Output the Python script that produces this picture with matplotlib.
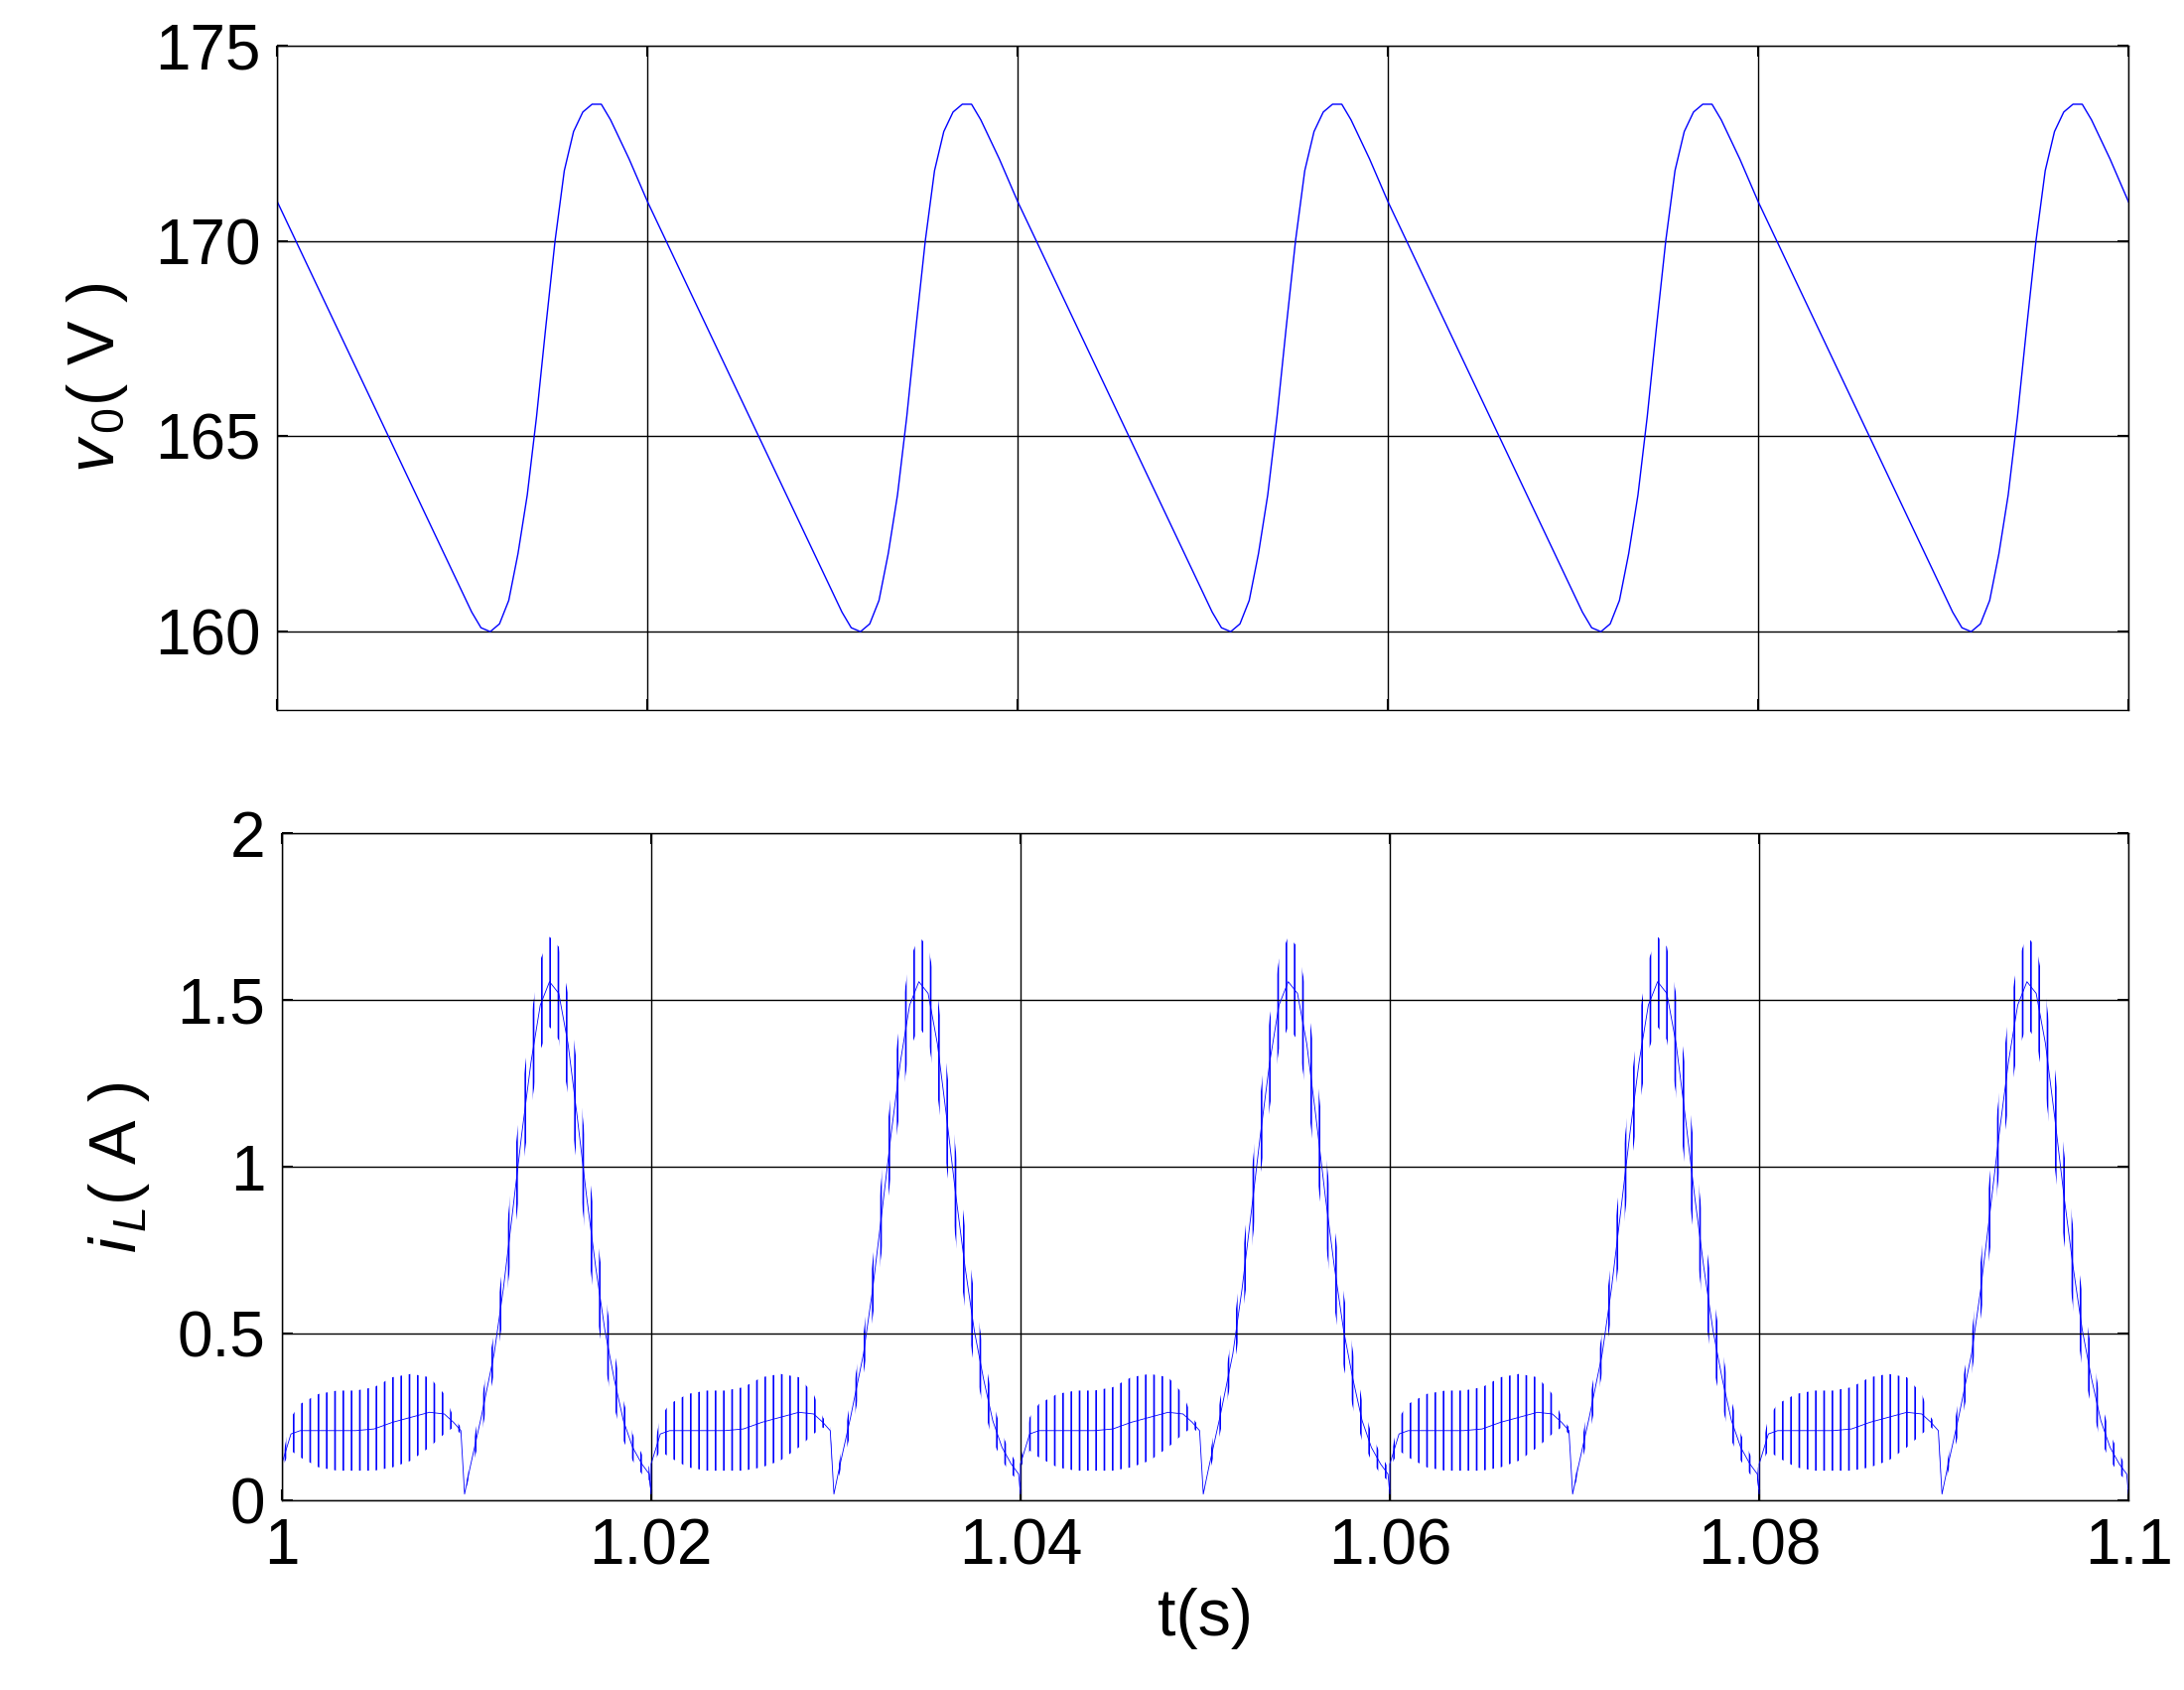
import numpy as np
import matplotlib
matplotlib.use('Agg')
import matplotlib.pyplot as plt

plt.rcParams['font.family'] = ['Liberation Sans', 'DejaVu Sans']
plt.rcParams['mathtext.fontset'] = 'custom'
plt.rcParams['mathtext.it'] = 'Liberation Sans:italic'
plt.rcParams['mathtext.rm'] = 'Liberation Sans'
plt.rcParams['hatch.linewidth'] = 1.2

period = 0.02
n_periods = 5
t0 = 1.0

# one period of output voltage, key points
v_t = [0.0, 0.0095, 0.0105, 0.011, 0.0115, 0.012, 0.0125, 0.013, 0.0135, 0.014, 0.0145, 0.015, 0.0155,
       0.016, 0.0165, 0.017, 0.0175, 0.018, 0.0185, 0.019, 0.02]
v_val = [171.0, 161.5, 160.5, 160.1, 160.0, 160.2, 160.8, 162.0, 163.5, 165.5, 167.8, 170.0, 171.8,
         172.8, 173.3, 173.5, 173.5, 173.1, 172.6, 172.1, 171.0]

# one period of inductor current envelope (upper / lower)
i_t = [0.0, 0.0005, 0.001, 0.002, 0.003, 0.004, 0.005, 0.006, 0.007, 0.008, 0.0088, 0.0093, 0.0097, 0.0099,
       0.0102, 0.0108, 0.0115, 0.012, 0.0125, 0.013, 0.0135, 0.014, 0.0145, 0.015, 0.0155, 0.016, 0.0165,
       0.017, 0.0175, 0.018, 0.0185, 0.019, 0.0195, 0.0199, 0.02]
i_up = [0.12, 0.25, 0.29, 0.32, 0.33, 0.33, 0.34, 0.37, 0.38, 0.37, 0.32, 0.25, 0.22, 0.02,
        0.12, 0.3, 0.5, 0.72, 0.98, 1.22, 1.45, 1.62, 1.69, 1.66, 1.52, 1.3, 1.05,
        0.82, 0.62, 0.45, 0.3, 0.2, 0.14, 0.1, 0.02]
i_lo = [0.1, 0.15, 0.13, 0.1, 0.09, 0.09, 0.09, 0.1, 0.12, 0.16, 0.2, 0.22, 0.2, 0.02,
        0.08, 0.2, 0.38, 0.55, 0.75, 0.98, 1.18, 1.35, 1.42, 1.38, 1.22, 1.0, 0.78,
        0.58, 0.4, 0.28, 0.18, 0.12, 0.08, 0.06, 0.02]

def tile(tt, yy):
    ts, ys = [], []
    for k in range(n_periods):
        ts += [t0 + k * period + x for x in tt]
        ys += list(yy)
    return np.array(ts), np.array(ys)

tv, vv = tile(v_t, v_val)
ti, iu = tile(i_t, i_up)
_, il = tile(i_t, i_lo)

fig = plt.figure(figsize=(22, 17.02), dpi=100)
ax1 = fig.add_axes([0.127, 0.58, 0.8476, 0.393])
ax2 = fig.add_axes([0.129, 0.112, 0.8456, 0.395])

blue = '#0000ff'
ax1.plot(tv, vv, color=blue, lw=1.0)
ax1.set_ylim(158, 175)
ax1.set_yticks([160, 165, 170, 175])
ax1.set_ylabel(r'$v_{\,0}$( V )', fontsize=48, labelpad=18)

ax2.fill_between(ti, il, iu, facecolor='none', edgecolor=blue, hatch='||', lw=0)
ax2.plot(ti, (iu + il) / 2, color=blue, lw=0.6)
ax2.set_ylim(0, 2)
ax2.set_yticks([0, 0.5, 1, 1.5, 2])
ax2.set_yticklabels(['0', '0.5', '1', '1.5', '2'])
ax2.set_ylabel(r'$i_{\,L}$( A )', fontsize=48, labelpad=18)
ax2.set_xlabel('t(s)', fontsize=48, labelpad=8)

for ax in (ax1, ax2):
    ax.set_xlim(1.0, 1.1)
    ax.set_xticks([1.0, 1.02, 1.04, 1.06, 1.08, 1.1])
    ax.grid(True, color='black', lw=1.0)
    ax.tick_params(direction='in', length=8, width=1.5, labelsize=46,
                   top=True, right=True, pad=12)
    for s in ax.spines.values():
        s.set_linewidth(1.0)
ax1.set_xticklabels([])
ax2.set_xticklabels(['1', '1.02', '1.04', '1.06', '1.08', '1.1'])

fig.savefig('out.png', dpi=100)
